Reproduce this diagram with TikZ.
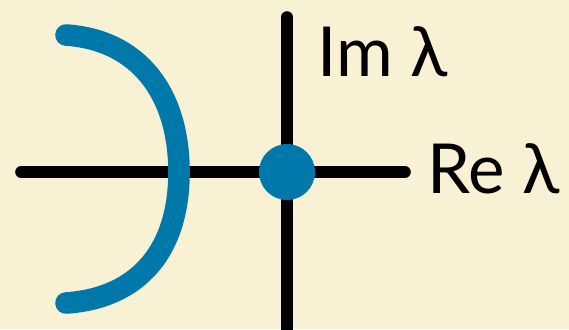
\documentclass[tikz,border=0pt]{standalone}
\usepackage{fontspec}
\setmainfont{Lato}
\definecolor{papel}{RGB}{249,241,211}
\definecolor{azulpolo}{RGB}{0,120,170}
\begin{document}
\begin{tikzpicture}[x=0.5pt,y=-0.5pt]
            % Fondo
            \fill[papel] (0,0) rectangle (569,329);
            \useasboundingbox (0,0) rectangle (569,329);
            
            % Ejes
            \coordinate (reIzq) at (21,172);
            \coordinate (reDer) at (405,172);
            \coordinate (imArr) at (287,17);
            \coordinate (imAba) at (287,345);
            \draw[line width=5.8pt,line cap=round] (reIzq) -- (reDer);
            \draw[line width=5.8pt,line cap=round] (imArr) -- (imAba);
            \node[anchor=base west,inner sep=0pt,font=\fontsize{34.5}{34.5}\selectfont] (etiqIm) at (317,76) {Im λ};
            \node[anchor=base west,inner sep=0pt,font=\fontsize{34.5}{34.5}\selectfont] (etiqRe) at (427,193) {Re λ};
            
            % Arco de autovalores en azul
            \coordinate (arcoArr) at (66,35);
            \coordinate (arcoMed) at (179,172);
            \coordinate (arcoAba) at (66,303);
            \draw[azulpolo,line width=10.8pt,line cap=round] (arcoArr) .. controls (140,40) and (179,95) .. (arcoMed)
                .. controls (179,249) and (140,298) .. (arcoAba);
            
            % Punto en el origen
            \node[circle,fill=azulpolo,minimum size=28pt,inner sep=0pt] (origen) at (287,172) {};
\end{tikzpicture}
\end{document}
